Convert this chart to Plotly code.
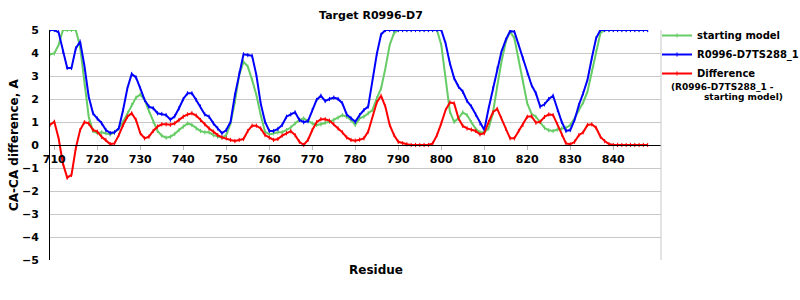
import plotly.graph_objects as go

residues = list(range(709, 849))

starting_model = [
    3.94, 3.98, 4.35, 5.0, 5.0, 5.0, 5.0, 4.27, 2.61, 1.23,
    0.61, 0.51, 0.55, 0.51, 0.46, 0.55, 0.72, 1.01, 1.38, 1.74,
    2.06, 2.2, 1.96, 1.48, 1.01, 0.61, 0.41, 0.32, 0.36, 0.48,
    0.65, 0.8, 0.94, 0.87, 0.72, 0.61, 0.55, 0.55, 0.43, 0.36,
    0.32, 0.43, 0.94, 1.88, 3.04, 3.62, 3.41, 2.83, 2.17, 1.3,
    0.58, 0.46, 0.51, 0.55, 0.55, 0.65, 0.76, 0.94, 1.09, 1.16,
    1.04, 0.94, 0.87, 0.9, 0.97, 1.01, 1.09, 1.19, 1.3, 1.23,
    1.09, 0.87, 1.16, 1.23, 1.38, 1.52, 2.03, 2.46, 3.33, 4.35,
    4.86, 5.0, 5.0, 5.0, 5.0, 5.0, 5.0, 5.0, 5.0, 5.0,
    5.0, 4.35, 2.9, 1.45, 1.01, 1.16, 1.42, 1.3, 0.99, 0.7,
    0.55, 0.55, 0.72, 1.38, 2.54, 3.62, 4.49, 4.93, 4.64, 3.77,
    2.75, 1.81, 1.35, 1.23, 0.99, 0.75, 0.64, 0.61, 0.67, 0.72,
    0.75, 0.87, 1.16, 1.52, 1.85, 2.32, 3.19, 4.06, 4.86, 5.0,
    5.0, 5.0, 5.0, 5.0, 5.0, 5.0, 5.0, 5.0, 5.0, 5.0,
]

model_ts288 = [
    5.0, 5.0, 4.9, 4.05, 3.35, 3.35, 4.2, 4.5, 3.45, 2.1,
    1.38, 1.15, 0.95, 0.65, 0.52, 0.55, 0.73, 1.52, 2.47, 3.09,
    2.94, 2.46, 1.96, 1.67, 1.6, 1.38, 1.35, 1.3, 1.1, 1.25,
    1.6, 2.0, 2.25, 2.25, 1.96, 1.67, 1.33, 1.23, 0.94, 0.72,
    0.51, 0.65, 1.01, 2.17, 3.12, 3.94, 3.91, 3.88, 3.04, 1.81,
    1.01, 0.61, 0.61, 0.7, 0.87, 1.23, 1.33, 1.42, 1.09, 0.99,
    1.04, 1.52, 1.96, 2.14, 1.91, 2.0, 2.06, 2.0, 1.81, 1.33,
    1.16, 1.01, 1.3, 1.52, 1.67, 2.8, 3.95, 4.8, 5.0, 5.0,
    5.0, 5.0, 5.0, 5.0, 5.0, 5.0, 5.0, 5.0, 5.0, 5.0,
    5.0, 5.0, 4.42, 3.55, 2.9, 2.54, 2.32, 1.91, 1.67, 1.33,
    0.94, 0.65, 1.59, 2.46, 3.33, 4.06, 4.57, 4.95, 4.93, 4.35,
    3.77, 3.12, 2.6, 2.25, 1.67, 1.77, 2.0, 2.14, 1.52, 1.01,
    0.61, 0.65, 1.09, 1.74, 2.25, 2.83, 3.77, 4.64, 5.0, 5.0,
    5.0, 5.0, 5.0, 5.0, 5.0, 5.0, 5.0, 5.0, 5.0, 5.0,
]

difference = [
    0.87, 1.01, 0.29, -0.8, -1.42, -1.3, -0.14, 0.65, 0.99, 0.94,
    0.65, 0.58, 0.36, 0.22, 0.04, 0.07, 0.43, 0.87, 1.23, 1.38,
    1.09, 0.51, 0.29, 0.36, 0.61, 0.8, 0.9, 0.9, 0.88, 0.94,
    1.09, 1.23, 1.33, 1.38, 1.28, 1.09, 0.9, 0.72, 0.58, 0.43,
    0.33, 0.29, 0.22, 0.17, 0.22, 0.26, 0.61, 0.84, 0.84, 0.72,
    0.43, 0.32, 0.22, 0.26, 0.41, 0.51, 0.6, 0.43, 0.14, 0.0,
    0.22, 0.65, 0.99, 1.12, 1.12, 1.06, 0.91, 0.72, 0.55, 0.33,
    0.22, 0.19, 0.23, 0.29, 0.58, 1.23, 1.85, 2.14, 1.67, 0.87,
    0.43, 0.14, 0.07, 0.03, 0.0, 0.0, 0.0, 0.0, 0.0, 0.07,
    0.43, 0.94, 1.52, 1.85, 1.81, 1.16, 0.83, 0.72, 0.67, 0.61,
    0.46, 0.51, 0.99, 1.42, 1.57, 1.16, 0.7, 0.29, 0.29, 0.61,
    0.87, 1.23, 1.25, 0.97, 1.01, 1.22, 1.33, 1.3, 0.9, 0.46,
    0.07, 0.03, 0.14, 0.43, 0.55, 0.87, 0.9, 0.75, 0.36, 0.17,
    0.04, 0.0, 0.0, 0.0, 0.0, 0.0, 0.0, 0.0, 0.0, 0.0,
]

x_ticks = [710, 720, 730, 740, 750, 760, 770, 780, 790, 800, 810, 820, 830, 840]
y_ticks = [5, 4, 3, 2, 1, 0, -1, -2, -3, -4, -5]

series = [
    ("starting model", starting_model, "#66CC66"),
    ("R0996-D7TS288_1", model_ts288, "#0000FF"),
    ("Difference", difference, "#FF0000"),
]

FONT = "DejaVu Sans"

fig = go.Figure()
for name, vals, color in series:
    fig.add_trace(go.Scatter(
        x=residues, y=vals, name=name, mode="lines+markers",
        line=dict(color=color, width=2),
        marker=dict(symbol="line-ns-open", size=3, color=color,
                    line=dict(width=1, color=color)),
    ))

fig.update_layout(
    width=800, height=300,
    margin=dict(l=50, r=139, t=30, b=40, autoexpand=False),
    plot_bgcolor="white", paper_bgcolor="white",
    font=dict(family=FONT, color="black", size=11),
    title=dict(text="<b>Target R0996-D7</b>", x=371 / 800, xref="container",
               xanchor="center", y=1 - 15 / 300, yref="container", yanchor="middle",
               font=dict(size=11, family=FONT)),
    showlegend=True,
    legend=dict(x=657 / 800, xref="container", y=1 - 21 / 300, yref="container",
                xanchor="left", yanchor="top",
                font=dict(size=10, family=FONT, weight="bold"),
                bgcolor="rgba(0,0,0,0)", itemwidth=30, tracegroupgap=0),
)

fig.update_xaxes(
    range=[709, 851.1], tickvals=x_ticks, ticktext=[str(t) for t in x_ticks],
    showgrid=False, zeroline=False,
    showline=True, linecolor="black", linewidth=1,
    ticks="outside", ticklen=4, tickcolor="#b4b4b4", tickwidth=1,
    tickfont=dict(size=11, family=FONT, weight="bold"),
    anchor="free", position=0.5,
)
fig.update_yaxes(
    range=[-5, 5], tickvals=y_ticks,
    showgrid=True, gridcolor="#c8c8c8", gridwidth=1,
    zeroline=True, zerolinecolor="black", zerolinewidth=1,
    showline=True, linecolor="black", linewidth=1,
    ticks="", ticklabelstandoff=8,
    tickfont=dict(size=11, family=FONT, weight="bold"),
)

# right border of plot area
fig.add_shape(type="line", xref="x domain", yref="y domain", x0=1, x1=1, y0=0, y1=1,
              line=dict(color="#c8c8c8", width=1))

fig.add_annotation(text="<b>Residue</b>", xref="paper", yref="paper",
                   x=(376 - 50) / 611, y=-10 / 230, xanchor="center", yanchor="middle",
                   showarrow=False, font=dict(size=12, family=FONT))
fig.add_annotation(text="<b>CA-CA difference, A</b>", xref="paper", yref="paper",
                   x=(14 - 50) / 611, y=0.5, xanchor="center", yanchor="middle",
                   textangle=-90, showarrow=False, font=dict(size=12, family=FONT))
fig.add_annotation(text="<b>(R0996-D7TS288_1 -</b>", xref="paper", yref="paper",
                   x=(669 - 50) / 611, y=(260 - 87) / 230, xanchor="left", yanchor="middle",
                   showarrow=False, font=dict(size=9, family=FONT))
fig.add_annotation(text="<b>starting model)</b>", xref="paper", yref="paper",
                   x=(702 - 50) / 611, y=(260 - 97) / 230, xanchor="left", yanchor="middle",
                   showarrow=False, font=dict(size=9, family=FONT))

fig.write_html("out.html")
